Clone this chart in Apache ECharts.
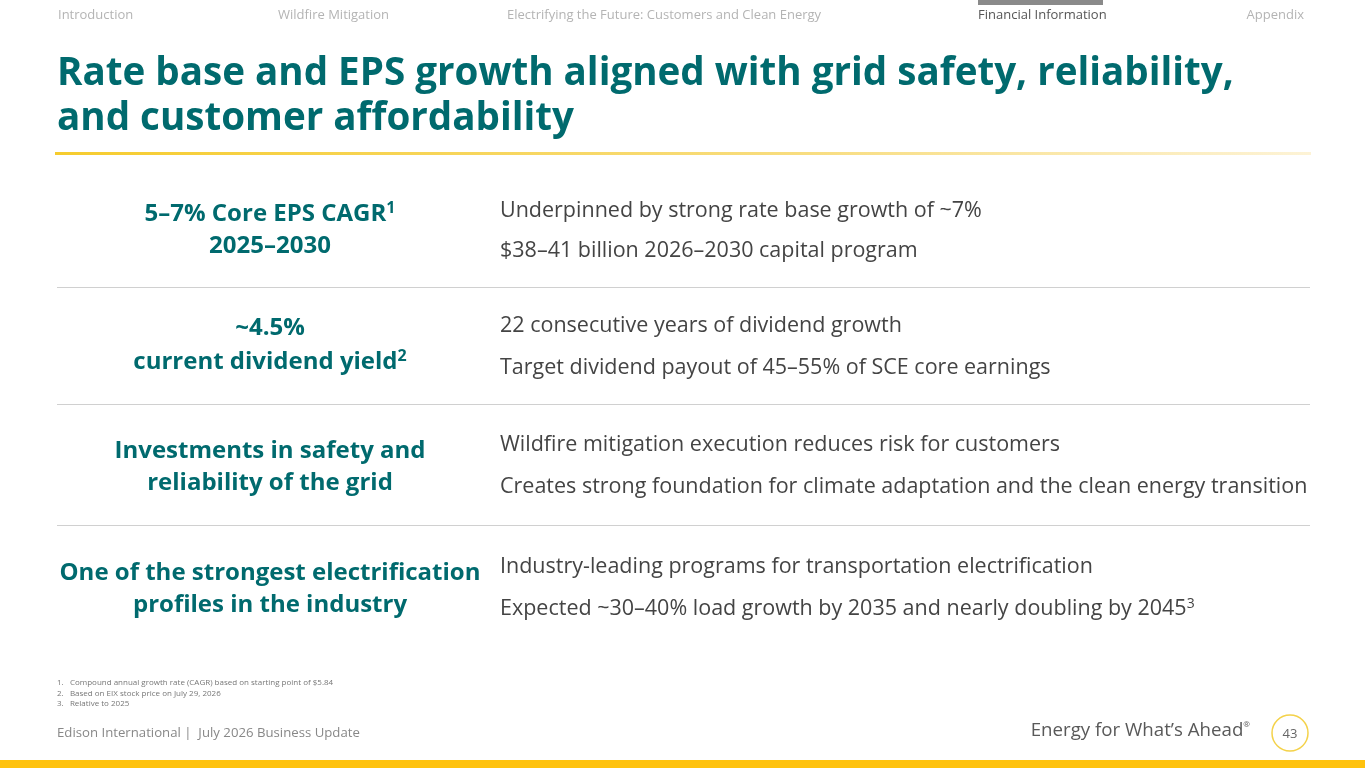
<!DOCTYPE html>
<html><head><meta charset="utf-8">
<script src="https://cdn.jsdelivr.net/npm/echarts@6/dist/echarts.min.js"></script>
<style>html,body{margin:0;padding:0;background:#fff}#c{width:1365px;height:768px}</style>
</head><body><div id="c"></div>
<script>
const navItems = ['Introduction','Wildfire Mitigation','Electrifying the Future: Customers and Clean Energy','Financial Information','Appendix'];
const navX = [58, 278, 507, 978, 1304];
const activeNav = 3;
const titleLines = ['Rate base and EPS growth aligned with grid safety, reliability,','and customer affordability'];
const headings = [
  [['5–7% Core EPS CAGR','1'],['2025–2030','']],
  [['~4.5%',''],['current dividend yield','2']],
  [['Investments in safety and',''],['reliability of the grid','']],
  [['One of the strongest electrification',''],['profiles in the industry','']]
];
const details = [
  [['Underpinned by strong rate base growth of ~7%',''],['$38–41 billion 2026–2030 capital program','']],
  [['22 consecutive years of dividend growth',''],['Target dividend payout of 45–55% of SCE core earnings','']],
  [['Wildfire mitigation execution reduces risk for customers',''],['Creates strong foundation for climate adaptation and the clean energy transition','']],
  [['Industry-leading programs for transportation electrification',''],['Expected ~30–40% load growth by 2035 and nearly doubling by 2045','3']]
];
const footnotes = ['1.   Compound annual growth rate (CAGR) based on starting point of $5.84','2.   Based on EIX stock price on July 29, 2026','3.   Relative to 2025'];
const footerLeft = 'Edison International |  July 2026 Business Update';
const tagline = 'Energy for What’s Ahead';
const pageNum = '43';

const headY = [[214,246],[328,362],[451,483],[573,605]];
const detY = [[211,251],[326,368],[445,487],[567,609]];
const divY = [287,404,525];

const FONT = '"Open Sans", sans-serif';
const TEAL = '#006A6E';
const g = [];
navItems.forEach((t,i)=>{
  const last = i===navItems.length-1;
  g.push({type:'text', x: navX[i], y: 15,
    style:{text:t, font:'13px '+FONT, fill: i===activeNav ? '#555' : '#b4b4b4', align: last ? 'right' : 'left', verticalAlign:'middle'}});
});
g.push({type:'rect', shape:{x:978,y:0,width:125,height:5}, style:{fill:'#8a8a8a'}});
titleLines.forEach((t,i)=>{
  g.push({type:'text', x:57, y:[74,119][i], style:{text:t, font:'bold 38.6px '+FONT, fill:TEAL, verticalAlign:'middle'}});
});
g.push({type:'rect', shape:{x:55,y:152,width:1256,height:3}, style:{fill:{type:'linear',x:0,y:0,x2:1,y2:0,colorStops:[{offset:0,color:'#F6CC2E'},{offset:0.6,color:'#F8DD80'},{offset:1,color:'#FDF3D6'}]}}});
divY.forEach(y=>g.push({type:'rect', shape:{x:57,y:y,width:1253,height:1}, style:{fill:'#d0d0d0'}}));
function rich(parts, size, bold, color){
  return {
    text: parts.map(p=>'{m|'+p[0]+'}'+(p[1]?'{s|'+p[1]+'}':'')).join(''),
    rich:{ m:{fontWeight:bold?'bold':'normal', fontSize:size, fontFamily:FONT, fill:color},
           s:{fontSize:Math.round(size*0.65), fontWeight:bold?'bold':'normal', fontFamily:FONT, fill:color, verticalAlign:'top', padding:[0,0,Math.round(size*0.45),0]} }
  };
}
headings.forEach((row,r)=>{
  row.forEach((ln,k)=>{
    const st = rich([ln], 24, true, TEAL);
    g.push({type:'text', x:270, y:headY[r][k], style:Object.assign({align:'center', verticalAlign:'middle'}, st)});
  });
});
details.forEach((row,r)=>{
  row.forEach((ln,k)=>{
    const st = rich([ln], 21.5, false, '#444');
    g.push({type:'text', x:500, y:detY[r][k], style:Object.assign({align:'left', verticalAlign:'middle'}, st)});
  });
});
footnotes.forEach((t,i)=>g.push({type:'text', x:57, y:[683,694,704][i], style:{text:t, font:'8px '+FONT, fill:'#777', verticalAlign:'middle'}}));
g.push({type:'text', x:57, y:733, style:{text:footerLeft, font:'13.2px '+FONT, fill:'#888', verticalAlign:'middle'}});
g.push({type:'text', x:1250, y:731, style:{text:'{a|'+tagline+'}{r|®}', align:'right', verticalAlign:'middle',
  rich:{a:{fontSize:18.7, fontFamily:FONT, fill:'#595959'}, r:{fontSize:8, fontFamily:FONT, fill:'#595959', verticalAlign:'top', padding:[0,0,12,0]}}}});
g.push({type:'circle', shape:{cx:1290, cy:733, r:18}, style:{fill:'#fff', stroke:'#F4D24A', lineWidth:1.5}});
g.push({type:'text', x:1290, y:734, style:{text:pageNum, font:'13px '+FONT, fill:'#666', align:'center', verticalAlign:'middle'}});
g.push({type:'rect', shape:{x:0,y:760,width:1365,height:8}, style:{fill:'#FFC20E'}});

const chart = echarts.init(document.getElementById('c'));
chart.setOption({backgroundColor:'#fff', animation:false, graphic:{elements:g}});
</script></body></html>
